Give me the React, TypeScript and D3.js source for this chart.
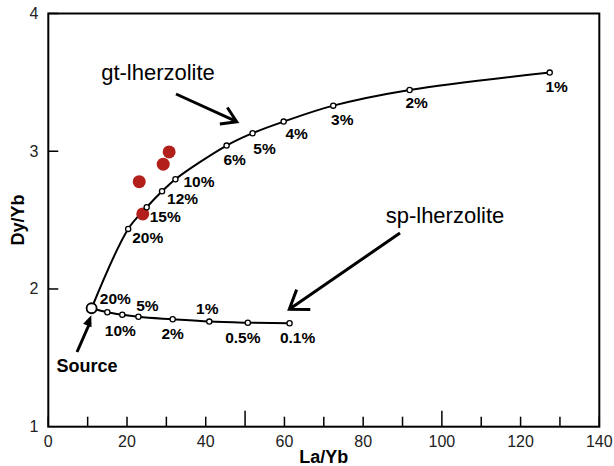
import React from "react";
import * as d3 from "d3";

// Garnet-lherzolite melting curve (degree of melting labels)
const gtLabels = ["20%", "15%", "12%", "10%", "6%", "5%", "4%", "3%", "2%", "1%"];
const gtLaYb = [20.3, 25.0, 28.9, 32.3, 45.3, 51.9, 59.8, 72.4, 91.8, 127.4];
const gtDyYb = [2.436, 2.593, 2.709, 2.797, 3.041, 3.131, 3.215, 3.331, 3.445, 3.571];

// Spinel-lherzolite melting curve
const spLabels = ["20%", "10%", "5%", "2%", "1%", "0.5%", "0.1%"];
const spLaYb = [15.0, 18.8, 22.9, 31.6, 40.9, 50.7, 61.3];
const spDyYb = [1.831, 1.813, 1.798, 1.78, 1.763, 1.755, 1.751];

// Source composition
const sourceLaYb = 11.0;
const sourceDyYb = 1.86;

// Samples
const sampleLaYb = [30.7, 29.2, 23.1, 24.0];
const sampleDyYb = [2.995, 2.906, 2.779, 2.545];

const xTickValues = [0, 20, 40, 60, 80, 100, 120, 140];
const xMinorTicks = d3.range(0, 141, 10);
const yTickValues = [1, 2, 3, 4];

// label placement (pixel offsets from each marker)
const gtLabelOffsets: [number, number, string][] = [
  [4, 14, "start"],
  [3, 15, "start"],
  [5, 13, "start"],
  [8, 8, "start"],
  [8, 19, "middle"],
  [12, 21, "middle"],
  [13, 17, "middle"],
  [9, 19, "middle"],
  [7, 18, "middle"],
  [7, 19, "middle"],
];
const spLabelOffsets: [number, number][] = [
  [8, -8],
  [-2, 21],
  [9, -6],
  [0, 20],
  [-2, -8],
  [-5, 20],
  [8, 20],
];

const W = 614;
const H = 466;
const x = d3.scaleLinear().domain([0, 140]).range([48.3, 599.3]);
const y = d3.scaleLinear().domain([1, 4]).range([426.7, 13.5]);

const FONT = "'Liberation Sans', Arial, Helvetica, sans-serif";

function chevron(x0: number, y0: number, x1: number, y1: number, len: number, ang: number) {
  const back = Math.atan2(y0 - y1, x0 - x1);
  const a = (ang * Math.PI) / 180;
  const p1 = [x1 + len * Math.cos(back + a), y1 + len * Math.sin(back + a)];
  const p2 = [x1 + len * Math.cos(back - a), y1 + len * Math.sin(back - a)];
  return `M${x0},${y0}L${x1},${y1}M${p1[0]},${p1[1]}L${x1},${y1}L${p2[0]},${p2[1]}`;
}

function filledHead(x0: number, y0: number, x1: number, y1: number, len: number, half: number) {
  const back = Math.atan2(y0 - y1, x0 - x1);
  const bx = x1 + len * Math.cos(back);
  const by = y1 + len * Math.sin(back);
  const nx = -Math.sin(back);
  const ny = Math.cos(back);
  return `M${x1},${y1}L${bx + nx * half},${by + ny * half}L${bx - nx * half},${by - ny * half}Z`;
}

export default function App() {
  const gtPts: [number, number][] = [[sourceLaYb, sourceDyYb], ...gtLaYb.map((v, i) => [v, gtDyYb[i]] as [number, number])];
  const spPts: [number, number][] = [[sourceLaYb, sourceDyYb], ...spLaYb.map((v, i) => [v, spDyYb[i]] as [number, number])];

  const gtLine = d3
    .line<[number, number]>()
    .x((d) => x(d[0]))
    .y((d) => y(d[1]))
    .curve(d3.curveCatmullRom.alpha(0.5));
  const spLine = d3
    .line<[number, number]>()
    .x((d) => x(d[0]))
    .y((d) => y(d[1]))
    .curve(d3.curveMonotoneX);

  const sx = x(sourceLaYb);
  const sy = y(sourceDyYb);

  return (
    <svg width={W} height={H} style={{ position: "absolute", left: 0, top: 0, background: "#fff" }} fontFamily={FONT}>
      {/* frame */}
      <rect x={x(0)} y={y(4)} width={x(140) - x(0)} height={y(1) - y(4)} fill="none" stroke="#000" strokeWidth={2} />

      {/* x ticks */}
      {xMinorTicks.map((t) => (
        <line key={"xt" + t} x1={x(t)} x2={x(t)} y1={y(1)} y2={y(1) - (t % 50 === 0 && t > 0 ? 16 : 10)} stroke="#000" strokeWidth={1.5} />
      ))}
      {xTickValues.map((t) => (
        <text key={"xl" + t} x={x(t)} y={y(1) + 20} textAnchor="middle" fontSize={16} fill="#222">
          {t}
        </text>
      ))}

      {/* y ticks */}
      {yTickValues.map((t) => (
        <g key={"yt" + t}>
          {t > 1 && <line x1={x(0)} x2={x(0) + 10} y1={y(t)} y2={y(t)} stroke="#000" strokeWidth={1.5} />}
          <text x={x(0) - 10} y={y(t) + 5.5} textAnchor="end" fontSize={16} fill="#222">
            {t}
          </text>
        </g>
      ))}

      {/* axis titles */}
      <text x={(x(0) + x(140)) / 2} y={463} textAnchor="middle" fontSize={18} fontWeight="bold">
        La/Yb
      </text>
      <text transform={`translate(24,${(y(1) + y(4)) / 2}) rotate(-90)`} textAnchor="middle" fontSize={18} fontWeight="bold">
        Dy/Yb
      </text>

      {/* melting curves */}
      <path d={gtLine(gtPts) || ""} fill="none" stroke="#000" strokeWidth={2} />
      <path d={spLine(spPts) || ""} fill="none" stroke="#000" strokeWidth={2} />

      {/* samples */}
      {sampleLaYb.map((v, i) => (
        <circle key={"s" + i} cx={x(v)} cy={y(sampleDyYb[i])} r={6.5} fill="#b3201c" />
      ))}

      {/* curve markers */}
      {gtLaYb.map((v, i) => (
        <circle key={"gm" + i} cx={x(v)} cy={y(gtDyYb[i])} r={2.6} fill="#fff" stroke="#000" strokeWidth={1.3} />
      ))}
      {spLaYb.map((v, i) => (
        <circle key={"sm" + i} cx={x(v)} cy={y(spDyYb[i])} r={2.6} fill="#fff" stroke="#000" strokeWidth={1.3} />
      ))}
      <circle cx={sx} cy={sy} r={5} fill="#fff" stroke="#000" strokeWidth={1.8} />

      {/* melting degree labels */}
      {gtLabels.map((lab, i) => {
        const [dx, dy, anchor] = gtLabelOffsets[i];
        return (
          <text key={"gl" + i} x={x(gtLaYb[i]) + dx} y={y(gtDyYb[i]) + dy} textAnchor={anchor as any} fontSize={15.5} fontWeight="bold">
            {lab}
          </text>
        );
      })}
      {spLabels.map((lab, i) => {
        const [dx, dy] = spLabelOffsets[i];
        return (
          <text key={"sl" + i} x={x(spLaYb[i]) + dx} y={y(spDyYb[i]) + dy} textAnchor="middle" fontSize={15.5} fontWeight="bold">
            {lab}
          </text>
        );
      })}

      {/* annotations */}
      <text x={158} y={80} textAnchor="middle" fontSize={22}>
        gt-lherzolite
      </text>
      <path d={chevron(176, 94, 236.7, 121.7, 17, 32)} fill="none" stroke="#000" strokeWidth={3} />

      <text x={445} y={223} textAnchor="middle" fontSize={22}>
        sp-lherzolite
      </text>
      <path d={chevron(400, 233, 289.3, 309.3, 21, 35)} fill="none" stroke="#000" strokeWidth={3} />

      <line x1={77} y1={352} x2={sx - 1.5} y2={sy + 14} stroke="#000" strokeWidth={3} />
      <path d={filledHead(77, 352, sx - 0.3, sy + 7, 11, 4.5)} fill="#000" />
      <text x={87} y={372} textAnchor="middle" fontSize={18} fontWeight="bold">
        Source
      </text>
    </svg>
  );
}
